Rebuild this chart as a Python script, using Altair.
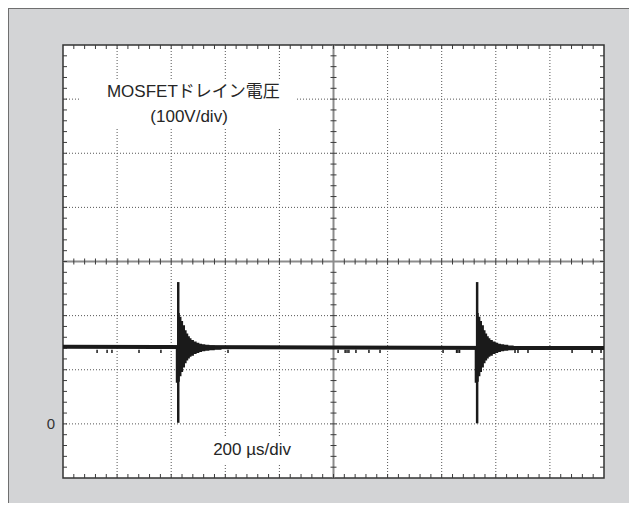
import altair as alt
import pandas as pd

# ---- scope geometry (10 div x 200 us, 8 div x 100 V, zero one div above bottom)
T_DOMAIN = [0, 2000]
V_DOMAIN = [-100, 700]
PLOT_W, PLOT_H = 541, 433

MAJOR_T = [200, 400, 600, 800, 1200, 1400, 1600, 1800]
MAJOR_V = [0, 100, 200, 400, 500, 600]
CENTER_T = [1000]
CENTER_V = [300]
MINOR_T = list(range(40, 2000, 40))
MINOR_V = list(range(-80, 700, 20))
Y_TICK_VALUES = [0]
Y_TICK_LABELS = ["0"]

# ---- waveform
BASE_T = [0, 1000, 2000]
BASE_V = [142.5, 141, 140]
SPIKE_T = [426, 1531]
SPIKE_TOP = [262, 262]
SPIKE_BOTTOM = [2, 1]
RING_DT = [-9, 1, 6, 12, 18, 25, 31, 37, 43, 49, 58, 68, 78, 88, 100, 115, 135, 160]
RING_HI = [143, 205, 198, 190, 182, 173, 167, 162, 158, 155, 152, 150, 148, 147, 146, 145, 144, 143]
RING_LO = [76, 78, 88, 96, 104, 112, 117, 121, 124, 126, 129, 131, 133, 134, 135, 136, 137, 138]
GLITCH_T = [126, 163, 181, 281, 362, 610, 1017, 1043, 1050, 1057, 1083, 1131, 1172,
            1405, 1455, 1460, 1466, 1671, 1682, 1719, 1882, 1956, 1989]

# ---- annotations
LABELS = ["MOSFETドレイン電圧", "(100V/div)", "200 µs/div"]
LABEL_T = [482, 466, 699]
LABEL_V = [613, 567, -48]
BOX_T0 = [63, 469]
BOX_T1 = [858, 913]
BOX_V0 = [547, -75]
BOX_V1 = [636, -25]

FONT = "Liberation Sans, Noto Sans CJK JP, sans-serif"
INK = "#1a1a1a"

T_PER_PX = (T_DOMAIN[1] - T_DOMAIN[0]) / PLOT_W
V_PER_PX = (V_DOMAIN[1] - V_DOMAIN[0]) / PLOT_H

PAD = {"left": 55, "top": 37, "right": 25, "bottom": 25}
TOTAL_W = PAD["left"] + PLOT_W + PAD["right"]
TOTAL_H = PAD["top"] + PLOT_H + PAD["bottom"]

xs = alt.Scale(domain=T_DOMAIN, nice=False, zero=False)
ys = alt.Scale(domain=V_DOMAIN, nice=False, zero=False)


def X(f):
    return alt.X(f, type="quantitative", scale=xs, axis=None)


def Y(f):
    return alt.Y(f, type="quantitative", scale=ys, axis=None)


one = pd.DataFrame({"k": [0]})

# outer panel border (left / top edge of the gray panel)
panel_left = alt.Chart(one).mark_rule(color="#6f6f6f", strokeWidth=1).encode(
    x=alt.value(-PAD["left"] + 0.5), y=alt.value(-PAD["top"]), y2=alt.value(TOTAL_H - PAD["top"]))
panel_top = alt.Chart(one).mark_rule(color="#6f6f6f", strokeWidth=1).encode(
    y=alt.value(-PAD["top"] + 0.5), x=alt.value(-PAD["left"]), x2=alt.value(TOTAL_W - PAD["left"]))

# dotted grid
grid_t = alt.Chart(pd.DataFrame({"t": MAJOR_T})).mark_rule(
    color="#555555", strokeWidth=1, strokeDash=[1, 2]).encode(x=X("t"))
grid_v = alt.Chart(pd.DataFrame({"v": MAJOR_V})).mark_rule(
    color="#555555", strokeWidth=1, strokeDash=[1, 2]).encode(y=Y("v"))

# white boxes behind the annotations
boxes = alt.Chart(pd.DataFrame({"t0": BOX_T0, "t1": BOX_T1, "v0": BOX_V0, "v1": BOX_V1})).mark_rect(
    color="white").encode(x=X("t0"), x2="t1", y=Y("v0"), y2="v1")

# center cross
center_t = alt.Chart(pd.DataFrame({"t": CENTER_T})).mark_rule(
    color="#8c8c8c", strokeWidth=2).encode(x=X("t"))
center_v = alt.Chart(pd.DataFrame({"v": CENTER_V})).mark_rule(
    color="#8c8c8c", strokeWidth=2).encode(y=Y("v"))

# minor ticks
lt = 4 * T_PER_PX   # inward tick length on border (time units)
lv = 4 * V_PER_PX
ct = 3 * T_PER_PX   # half tick length on center lines
cv = 3 * V_PER_PX

tick_rows = []
for t in MINOR_T:
    tick_rows.append({"t0": t, "t1": t, "v0": V_DOMAIN[1], "v1": V_DOMAIN[1] - lv})
    tick_rows.append({"t0": t, "t1": t, "v0": V_DOMAIN[0], "v1": V_DOMAIN[0] + lv})
    if t != CENTER_T[0]:
        tick_rows.append({"t0": t, "t1": t, "v0": CENTER_V[0] - cv, "v1": CENTER_V[0] + cv})
for v in MINOR_V:
    tick_rows.append({"t0": T_DOMAIN[0], "t1": T_DOMAIN[0] + lt, "v0": v, "v1": v})
    tick_rows.append({"t0": T_DOMAIN[1], "t1": T_DOMAIN[1] - lt, "v0": v, "v1": v})
    if v != CENTER_V[0]:
        tick_rows.append({"t0": CENTER_T[0] - ct, "t1": CENTER_T[0] + ct, "v0": v, "v1": v})
ticks = alt.Chart(pd.DataFrame(tick_rows)).mark_rule(color="#3a3a3a", strokeWidth=1).encode(
    x=X("t0"), x2="t1", y=Y("v0"), y2="v1")

# "0" level label, left of the graticule
zero_lbl = alt.Chart(pd.DataFrame({"v": Y_TICK_VALUES, "label": Y_TICK_LABELS,
                                   "t": [T_DOMAIN[0]] * len(Y_TICK_VALUES)})).mark_text(
    font=FONT, fontSize=15, color="#333333", align="right", baseline="middle", dx=-8).encode(
    x=X("t"), y=Y("v"), text="label:N")

# annotations
texts = alt.Chart(pd.DataFrame({"label": LABELS, "t": LABEL_T, "v": LABEL_V})).mark_text(
    font=FONT, fontSize=17, color="#262626", align="center", baseline="middle").encode(
    x=X("t"), y=Y("v"), text="label:N")

# waveform
base = alt.Chart(pd.DataFrame({"t": BASE_T, "v": BASE_V})).mark_line(
    color=INK, strokeWidth=4).encode(x=X("t"), y=Y("v"))

ring_rows = []
for i, s in enumerate(SPIKE_T):
    for dt, hi, lo in zip(RING_DT, RING_HI, RING_LO):
        ring_rows.append({"id": i, "t": s + dt, "hi": hi, "lo": lo})
ring = alt.Chart(pd.DataFrame(ring_rows)).mark_area(
    color=INK, interpolate="step-after", opacity=1).encode(
    x=X("t"), y=Y("hi"), y2="lo", detail="id:N")

glitch = alt.Chart(pd.DataFrame({"t": GLITCH_T, "v0": [137] * len(GLITCH_T),
                                 "v1": [131] * len(GLITCH_T)})).mark_rule(
    color=INK, strokeWidth=1.5).encode(x=X("t"), y=Y("v0"), y2="v1")

spikes = alt.Chart(pd.DataFrame({"t": SPIKE_T, "top": SPIKE_TOP, "bot": SPIKE_BOTTOM})).mark_rule(
    color=INK, strokeWidth=2.5).encode(x=X("t"), y=Y("bot"), y2="top")

chart = alt.layer(
    grid_v, grid_t, boxes, center_t, center_v, ticks, zero_lbl, texts,
    base, ring, glitch, spikes, panel_left, panel_top,
).properties(
    width=PLOT_W, height=PLOT_H,
    autosize=alt.AutoSizeParams(type="none"),
    padding=PAD,
    background="#d3d4d6",
).configure_view(
    fill="white", stroke="#333333", strokeWidth=1.5,
)

chart.save("out.html", embed_options={"renderer": "svg", "actions": False})
